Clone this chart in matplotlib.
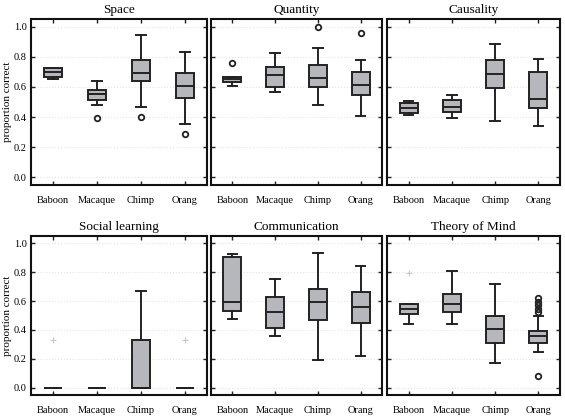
import matplotlib
matplotlib.use("Agg")
import matplotlib.pyplot as plt

plt.rcParams['font.family'] = ['Liberation Serif', 'DejaVu Serif']

species = ["Baboon", "Macaque", "Chimp", "Orang"]
yticks = [0.0, 0.2, 0.4, 0.6, 0.8, 1.0]
titles = ["Space", "Quantity", "Causality",
          "Social learning", "Communication", "Theory of Mind"]

# box statistics, one list per panel (Baboon, Macaque, Chimp, Orang)
space_med = [0.70, 0.552, 0.69, 0.609]
space_q1 = [0.666, 0.51, 0.64, 0.525]
space_q3 = [0.723, 0.582, 0.78, 0.69]
space_wlo = [0.655, 0.481, 0.464, 0.352]
space_whi = [0.723, 0.64, 0.947, 0.833]
space_out = [[], [0.391], [0.402], [0.286]]
space_ext = [[], [], [], []]

quant_med = [0.651, 0.68, 0.658, 0.611]
quant_q1 = [0.633, 0.60, 0.60, 0.549]
quant_q3 = [0.667, 0.733, 0.742, 0.702]
quant_wlo = [0.604, 0.567, 0.48, 0.409]
quant_whi = [0.667, 0.827, 0.86, 0.78]
quant_out = [[0.758], [], [1.0], [0.958]]
quant_ext = [[], [], [], []]

caus_med = [0.458, 0.469, 0.684, 0.518]
caus_q1 = [0.427, 0.431, 0.591, 0.462]
caus_q3 = [0.493, 0.516, 0.776, 0.696]
caus_wlo = [0.411, 0.393, 0.371, 0.344]
caus_whi = [0.507, 0.549, 0.887, 0.784]
caus_out = [[], [], [], []]
caus_ext = [[], [], [], []]

soc_med = [0.0, 0.0, 0.0, 0.0]
soc_q1 = [0.0, 0.0, 0.0, 0.0]
soc_q3 = [0.0, 0.0, 0.333, 0.0]
soc_wlo = [0.0, 0.0, 0.0, 0.0]
soc_whi = [0.0, 0.0, 0.667, 0.0]
soc_out = [[], [], [], []]
soc_ext = [[0.333], [], [], [0.333]]

comm_med = [0.594, 0.521, 0.592, 0.557]
comm_q1 = [0.534, 0.415, 0.470, 0.445]
comm_q3 = [0.908, 0.628, 0.681, 0.663]
comm_wlo = [0.479, 0.358, 0.190, 0.222]
comm_whi = [0.927, 0.755, 0.931, 0.839]
comm_out = [[], [], [], []]
comm_ext = [[], [], [], []]

tom_med = [0.544, 0.583, 0.404, 0.360]
tom_q1 = [0.511, 0.523, 0.310, 0.307]
tom_q3 = [0.580, 0.647, 0.498, 0.390]
tom_wlo = [0.443, 0.443, 0.170, 0.248]
tom_whi = [0.580, 0.805, 0.718, 0.498]
tom_out = [[], [], [], [0.523, 0.547, 0.571, 0.596, 0.620, 0.078]]
tom_ext = [[0.794], [], [], []]

panels = [
    (space_med, space_q1, space_q3, space_wlo, space_whi, space_out, space_ext),
    (quant_med, quant_q1, quant_q3, quant_wlo, quant_whi, quant_out, quant_ext),
    (caus_med, caus_q1, caus_q3, caus_wlo, caus_whi, caus_out, caus_ext),
    (soc_med, soc_q1, soc_q3, soc_wlo, soc_whi, soc_out, soc_ext),
    (comm_med, comm_q1, comm_q3, comm_wlo, comm_whi, comm_out, comm_ext),
    (tom_med, tom_q1, tom_q3, tom_wlo, tom_whi, tom_out, tom_ext),
]

W, H = 565, 417
fig = plt.figure(figsize=(W / 100, H / 100), dpi=100)

# axes boxes in pixels: left, right, top, bottom
cols = [(31, 207), (211, 382), (387, 560)]
rows = [(19, 185), (236, 395)]

edge = '#222222'
for i, (med, q1, q3, wlo, whi, out, ext) in enumerate(panels):
    r, c = divmod(i, 3)
    x0, x1 = cols[c]
    y0, y1 = rows[r]
    ax = fig.add_axes([x0 / W, (H - y1) / H, (x1 - x0) / W, (y1 - y0) / H])

    stats = []
    for k in range(4):
        stats.append(dict(med=med[k], q1=q1[k], q3=q3[k], whislo=wlo[k],
                          whishi=whi[k], fliers=out[k], label=species[k]))
    ax.bxp(stats, positions=[1, 2, 3, 4], widths=0.42, patch_artist=True,
           boxprops=dict(facecolor='#b5b7bc', edgecolor=edge, linewidth=1.4),
           medianprops=dict(color=edge, linewidth=1.4),
           whiskerprops=dict(color=edge, linewidth=1.4),
           capprops=dict(color=edge, linewidth=1.4),
           flierprops=dict(marker='o', markersize=4, markerfacecolor='none',
                           markeredgecolor=edge, markeredgewidth=1.3),
           capwidths=0.22)
    for k in range(4):
        if ext[k]:
            ax.plot([k + 1] * len(ext[k]), ext[k], '+', color='#c8c8c8',
                    markersize=5, markeredgewidth=0.8)

    ax.set_xlim(0.5, 4.5)
    ax.set_ylim(-0.05, 1.05)
    ax.set_yticks(yticks)
    ax.set_xticks([1, 2, 3, 4])
    ax.set_xticklabels(species, fontsize=7.5)
    ax.tick_params(direction='in', top=True, right=True, length=3,
                   width=1, color=edge, pad=8)
    ax.grid(axis='y', color='#e4e4e4', linestyle=':', linewidth=0.8)
    ax.set_axisbelow(True)
    for s in ax.spines.values():
        s.set_linewidth(1.5)
        s.set_color('#111111')
    if c == 0:
        ax.set_yticklabels(["%.1f" % v for v in yticks], fontsize=7.5)
        ax.tick_params(axis='y', pad=3)
        ax.set_ylabel("proportion correct", fontsize=8)
        ax.yaxis.set_label_coords(-0.108, 0.5)
    else:
        ax.set_yticklabels([])
    ax.set_title(titles[i], fontsize=9.5, pad=4)

fig.savefig("out.png", dpi=100)
